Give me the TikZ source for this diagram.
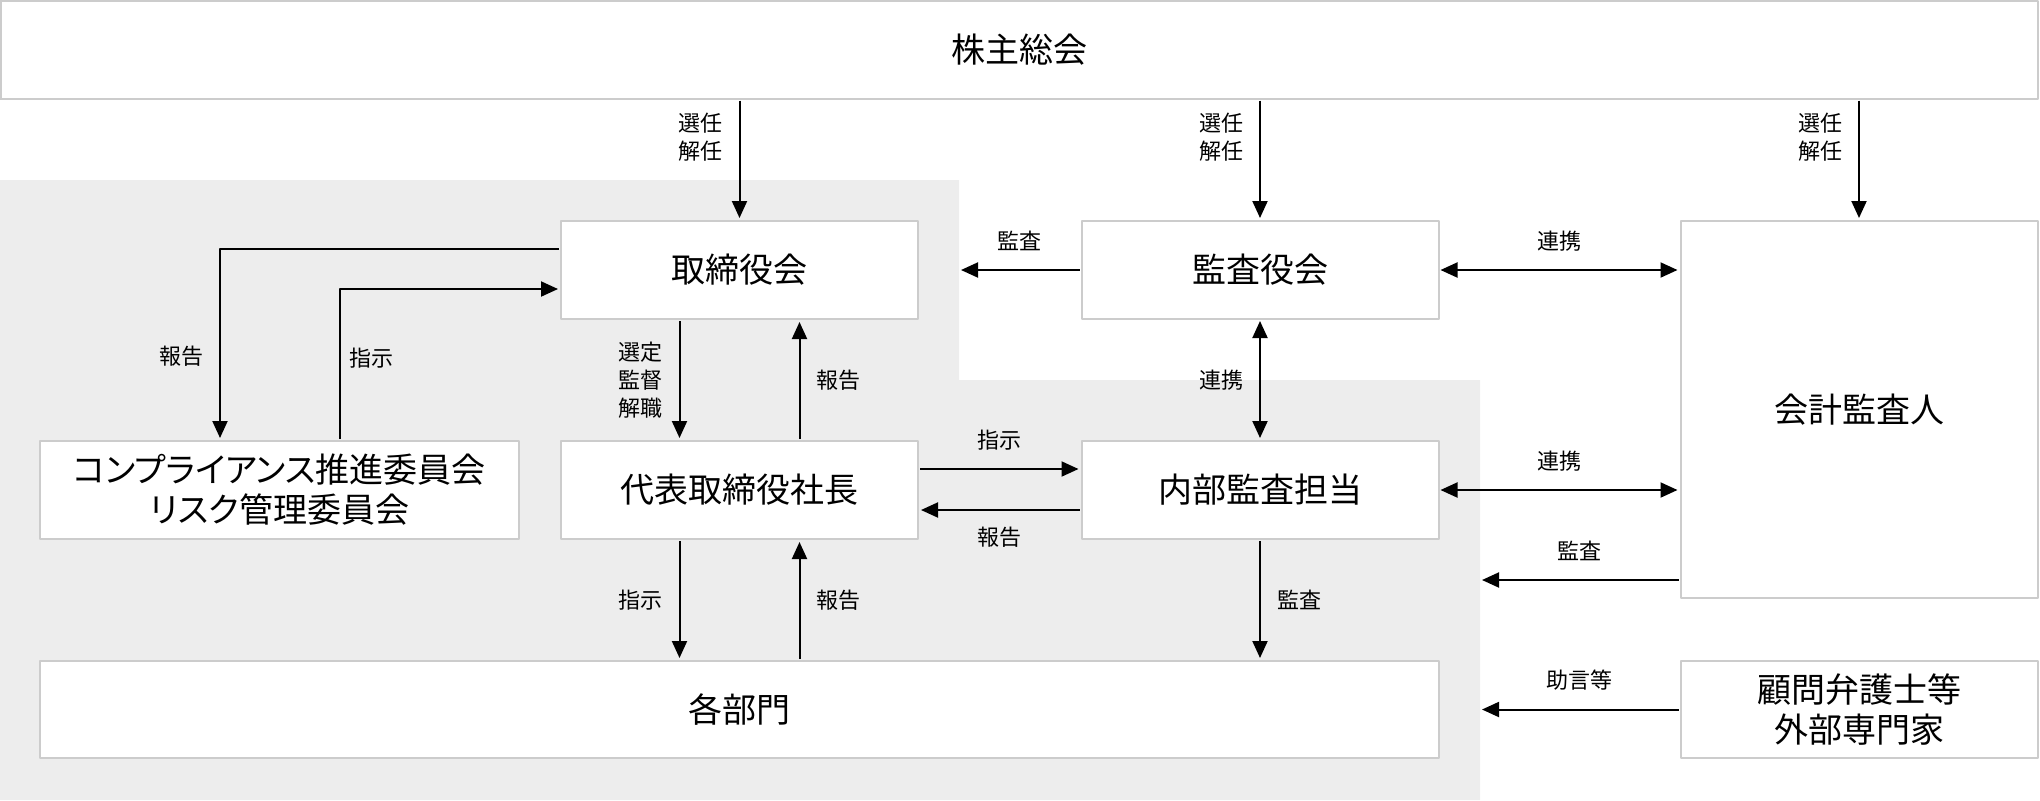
\documentclass[tikz,border=0pt]{standalone}
\usepackage{fontspec}
\setmainfont{Noto Sans CJK JP}
\newfontfamily\palttai[RawFeature=+palt]{Noto Sans CJK JP}
\usetikzlibrary{arrows.meta}
\definecolor{haikei}{RGB}{237,237,237}
\definecolor{waku}{RGB}{204,204,204}
\begin{document}
\begin{tikzpicture}[x=0.5pt, y=-0.5pt, line join=round, >={Triangle[length=8.5pt,width=7.5pt]},
	box/.style={draw=waku, line width=1pt, fill=white, inner sep=0pt, align=center, minimum width=178.5pt, minimum height=49pt, font=\palttai\fontsize{17}{20}\selectfont},
	lbl/.style={inner sep=0pt, align=center, font=\fontsize{11}{14}\selectfont},
	ya/.style={line width=1pt, shorten >=1pt, shorten <=0.5pt}]
		\useasboundingbox (0,0) rectangle (2040,800);
		\fill[haikei] (0,180)--(959,180)--(959,380)--(1480,380)--(1480,800)--(0,800)--cycle;
		\coordinate (kado1) at (959,180);
		\coordinate (kado2) at (1480,380);
		% boxes
		\node[box, minimum width=1018.5pt] (kabunushi) at (1019,49.5) {株主総会};
		\node[box] (torishimari) at (739.5,270) {取締役会};
		\node[box] (kansayaku) at (1260,270) {監査役会};
		\node[box, minimum height=188.5pt] (kaikei) at (1859,409.5) {会計監査人};
		\node[box, minimum width=239.5pt] (iinkai) at (279.5,490) {コンプライアンス推進委員会\\リスク管理委員会};
		\node[box] (daihyo) at (739.5,490) {代表取締役社長};
		\node[box] (naibu) at (1260,490) {内部監査担当};
		\node[box, minimum width=699.5pt, minimum height=48.5pt] (kakubu) at (739.5,709.5) {各部門};
		\node[box, minimum height=48.5pt] (komon) at (1859,709.5) {顧問弁護士等\\外部専門家};
		\coordinate (kansaout) at ([yshift=9.5pt]kaikei.south west);
		% arrows
		\draw[ya,->] (kabunushi.south -| torishimari) -- node[lbl, pos=0.31, left=8pt] {選任\\解任} (torishimari.north);
		\draw[ya,->] (kabunushi.south -| kansayaku) -- node[lbl, pos=0.31, left=8pt] {選任\\解任} (kansayaku.north);
		\draw[ya,->] (kabunushi.south -| kaikei) -- node[lbl, pos=0.31, left=8pt] {選任\\解任} (kaikei.north);
		\draw[ya,->] (kansayaku.west) -- node[lbl, above=9pt] {監査} (kansayaku.west -| kado1);
		\draw[ya,<->] (kansayaku.east) -- node[lbl, above=9pt] {連携} (kansayaku.east -| kaikei.west);
		\draw[ya,<->] (kansayaku.south) -- node[lbl, left=8pt] {連携} (naibu.north);
		\draw[ya,<->] (naibu.east) -- node[lbl, above=9pt] {連携} (naibu.east -| kaikei.west);
		\draw[ya,->] (kansaout) -- node[lbl, above=9pt] {監査} (kansaout -| kado2);
		\draw[ya,->] (komon.west) -- node[lbl, above=9pt] {助言等} (komon.west -| kado2);
		\draw[ya,->] ([xshift=-30pt]torishimari.south) -- node[lbl, left=8pt] {選定\\監督\\解職} ([xshift=-30pt]daihyo.north);
		\draw[ya,->] ([xshift=30pt]daihyo.north) -- node[lbl, right=8pt] {報告} ([xshift=30pt]torishimari.south);
		\draw[ya,->] ([yshift=10.5pt]daihyo.east) -- node[lbl, above=9pt] {指示} ([yshift=10.5pt]naibu.west);
		\draw[ya,->] ([yshift=-10pt]naibu.west) -- node[lbl, below=8pt] {報告} ([yshift=-10pt]daihyo.east);
		\draw[ya,->] ([xshift=-30pt]daihyo.south) -- node[lbl, left=8pt] {指示} ([xshift=-30pt]kakubu.north);
		\draw[ya,->] ([xshift=30pt]kakubu.north) -- node[lbl, right=8pt] {報告} ([xshift=30pt]daihyo.south);
		\draw[ya,->] (naibu.south) -- node[lbl, right=8pt] {監査} (naibu.south |- kakubu.north);
		\draw[ya,->] ([yshift=10.5pt]torishimari.west) -| node[lbl, pos=0.78, left=8pt] {報告} ([xshift=-29.75pt]iinkai.north);
		\draw[ya,->] ([xshift=30.25pt]iinkai.north) |- node[lbl, pos=0.27, right=4pt] {指示} ([yshift=-9.5pt]torishimari.west);
\end{tikzpicture}
\end{document}
